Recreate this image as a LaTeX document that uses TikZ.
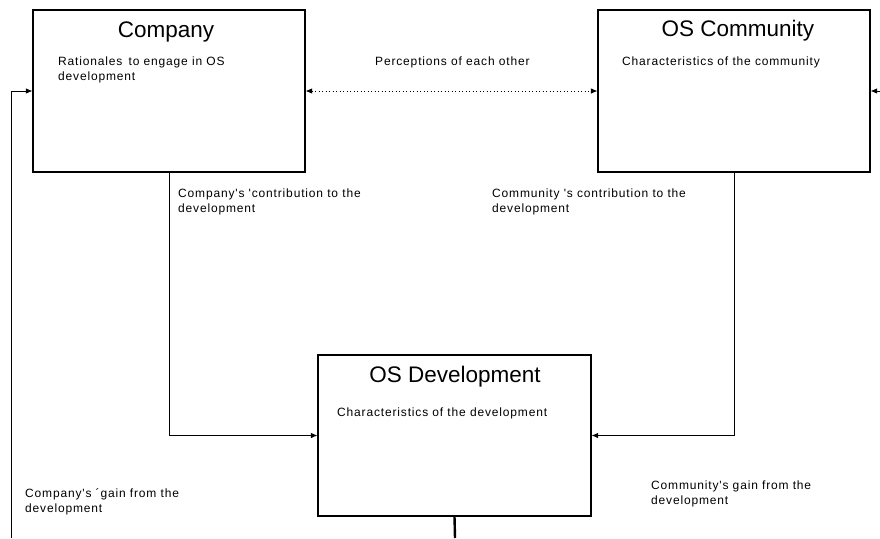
\documentclass[tikz,border=0pt]{standalone}
\usepackage{fontspec}
\setmainfont{Liberation Sans}
\newfontfamily\lblfont[LetterSpace=7]{Liberation Sans}
\usetikzlibrary{arrows.meta}
\tikzset{
  box/.style={draw, line width=1.1pt, minimum width=272pt, minimum height=162pt, inner sep=0pt},
  ttl/.style={anchor=base, inner sep=0pt, font=\fontsize{22.5}{26}\selectfont},
  lbl/.style={anchor=base west, inner sep=0pt, align=left, font=\lblfont\fontsize{12}{15}\selectfont},
  conn/.style={line width=0.9pt, -{Latex[length=6.5pt,width=5.5pt]}},
  dotconn/.style={line width=0.9pt, dash pattern=on 1pt off 2.5pt, {Latex[length=6.5pt,width=5.5pt]}-{Latex[length=6.5pt,width=5.5pt]}}
}
\begin{document}
\begin{tikzpicture}[x=1pt,y=-1pt]
\useasboundingbox (0,0) rectangle (880,538);
\node[box] (company) at (169,91) {};
\node[box] (community) at (734,91) {};
\node[box, minimum width=273pt, minimum height=161pt] (dev) at (454.5,435.5) {};

\node[ttl] (t1) at (166,37) {Company};
\node[ttl] (t2) at (738,36) {OS Community};
\node[ttl] (t3) at (455,382) {OS Development};

\node[lbl] (l1) at (58,80) {Rationales\, to engage in OS\\development};
\node[lbl] (l2) at (622,65) {Characteristics of the community};
\node[lbl] (l3) at (337,416) {Characteristics of the development};
\node[lbl] (l4) at (375,65) {Perceptions of each other};
\node[lbl] (l5) at (178,212) {Company's 'contribution to the\\development};
\node[lbl] (l6) at (492,212) {Community 's contribution to the\\development};
\node[lbl] (l7) at (25,512) {Company's ´gain from the\\development};
\node[lbl] (l8) at (651,504) {Community's gain from the\\development};

\coordinate (lb) at (11,538);
\coordinate (rb) at (880,91);
\coordinate (db) at (455,538);

\draw[dotconn] (company.east) -- (community.west);
\draw[conn] (company.south) |- (dev.west);
\draw[conn] (community.south) |- (dev.east);
\draw[conn] (lb) |- (company.west);
\draw[conn] (rb) -- (community.east);
\draw[line width=2.4pt] (dev.south) -- (db);
\end{tikzpicture}
\end{document}
